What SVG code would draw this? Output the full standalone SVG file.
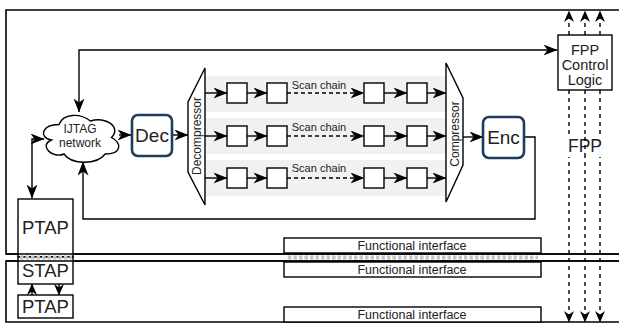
<svg xmlns="http://www.w3.org/2000/svg" width="619" height="324" viewBox="0 0 619 324">
<style>
text{font-family:"Liberation Sans",Arial,sans-serif;}
.ln{fill:none;stroke:#000;stroke-width:1.4;}
.fr{fill:none;stroke:#000;stroke-width:1.6;}
.bx{fill:#fff;stroke:#000;stroke-width:1.4;}
.rb{fill:#fff;stroke:#1f3b5e;stroke-width:2.6;}
.band{fill:#f1f1f1;}
.dash{fill:none;stroke:#000;stroke-width:1.4;stroke-dasharray:4 4;}
.bump{fill:none;stroke:#c4c4c4;stroke-width:4;stroke-dasharray:3.5 2;}
.t{fill:#222;text-anchor:middle;}
</style>
<defs>
<marker id="a" markerUnits="userSpaceOnUse" markerWidth="16" markerHeight="13" refX="13.5" refY="5.5" orient="auto-start-reverse"><path d="M0,0 L14,5.5 L0,11 L4,5.5 Z" fill="#000"/></marker>
<marker id="s" markerUnits="userSpaceOnUse" markerWidth="13" markerHeight="12" refX="11" refY="5" orient="auto-start-reverse"><path d="M0,0 L11.5,5 L0,10 L3.5,5 Z" fill="#000"/></marker>
</defs>

<g id="dies">
<path class="fr" d="M619,10 H6 V254 H619"/>
<path class="fr" d="M619,261 H6 V322 H619"/>
</g>

<g id="scan-bands">
<rect class="band" x="205" y="76" width="241" height="36"/>
<rect class="band" x="205" y="118" width="241" height="36"/>
<rect class="band" x="205" y="160" width="241" height="36"/>
</g>

<g id="connectors">
<path class="ln" d="M557,50 H79 V112" marker-start="url(#a)" marker-end="url(#a)"/>
<path class="ln" d="M32,198 V139 H44" marker-start="url(#a)" marker-end="url(#a)"/>
<path class="ln" d="M524,137 H535 V219 H83 V162" marker-end="url(#a)"/>
<path class="ln" d="M119,135 H131" marker-end="url(#a)"/>
<path class="ln" d="M172,135 H188" marker-end="url(#a)"/>
<path class="ln" d="M463,137 H483" marker-end="url(#a)"/>
<path class="ln" d="M32,295 V284" marker-end="url(#s)"/>
<path class="ln" d="M59,284 V295" marker-end="url(#s)"/>
<g id="chain1">
<path class="ln" d="M205,93 H227" marker-end="url(#a)"/>
<path class="ln" d="M247,93 H267" marker-end="url(#a)"/>
<path class="ln" d="M287,93 H364" stroke-dasharray="4 3" marker-end="url(#a)"/>
<path class="ln" d="M384,93 H407" marker-end="url(#a)"/>
<path class="ln" d="M427,93 H446" marker-end="url(#a)"/>
</g>
<g id="chain2">
<path class="ln" d="M205,136 H227" marker-end="url(#a)"/>
<path class="ln" d="M247,136 H267" marker-end="url(#a)"/>
<path class="ln" d="M287,136 H364" stroke-dasharray="4 3" marker-end="url(#a)"/>
<path class="ln" d="M384,136 H407" marker-end="url(#a)"/>
<path class="ln" d="M427,136 H446" marker-end="url(#a)"/>
</g>
<g id="chain3">
<path class="ln" d="M205,178 H227" marker-end="url(#a)"/>
<path class="ln" d="M247,178 H267" marker-end="url(#a)"/>
<path class="ln" d="M287,178 H364" stroke-dasharray="4 3" marker-end="url(#a)"/>
<path class="ln" d="M384,178 H407" marker-end="url(#a)"/>
<path class="ln" d="M427,178 H446" marker-end="url(#a)"/>
</g>
<g id="fpp-lines">
<path class="dash" d="M569,35 V11" marker-end="url(#s)"/>
<path class="dash" d="M585,35 V11" marker-end="url(#s)"/>
<path class="dash" d="M600,35 V11" marker-end="url(#s)"/>
<path class="dash" d="M569,90 V322" marker-end="url(#s)"/>
<path class="dash" d="M585,90 V322" marker-end="url(#s)"/>
<path class="dash" d="M600,90 V322" marker-end="url(#s)"/>
</g>
</g>

<g id="scan-labels">
<text class="t" x="319" y="89" font-size="11">Scan chain</text>
<text class="t" x="319" y="131" font-size="11">Scan chain</text>
<text class="t" x="319" y="172" font-size="11">Scan chain</text>
</g>

<g id="cells">
<rect class="bx" x="227" y="83" width="20" height="20"/>
<rect class="bx" x="267" y="83" width="20" height="20"/>
<rect class="bx" x="364" y="83" width="20" height="20"/>
<rect class="bx" x="407" y="83" width="20" height="20"/>
<rect class="bx" x="227" y="126" width="20" height="20"/>
<rect class="bx" x="267" y="126" width="20" height="20"/>
<rect class="bx" x="364" y="126" width="20" height="20"/>
<rect class="bx" x="407" y="126" width="20" height="20"/>
<rect class="bx" x="227" y="168" width="20" height="20"/>
<rect class="bx" x="267" y="168" width="20" height="20"/>
<rect class="bx" x="364" y="168" width="20" height="20"/>
<rect class="bx" x="407" y="168" width="20" height="20"/>
</g>

<g id="ijtag">
<path class="bx" d="M59,124.5 C42.2,124.5 38,137.5 51.4,140 C38,146 53.1,159 64,154 C71.6,165 96.8,165 105.2,154 C122,154 122,143 111.5,137.5 C122,127 105.2,116 90.5,121 C80,113 63.2,113 59,124.5 Z"/>
<text class="t" x="80" y="133" font-size="12" fill="#333">IJTAG</text>
<text class="t" x="80" y="147" font-size="12" fill="#333">network</text>
</g>

<g id="dec">
<rect class="rb" x="132" y="115" width="40" height="41" rx="6"/>
<text class="t" x="152" y="142" font-size="19" fill="#000">Dec</text>
</g>

<g id="decompressor">
<polygon class="bx" points="205,68 205,205 188,172 188,102"/>
<text class="t" transform="translate(200.5,136) rotate(-90)" font-size="12">Decompressor</text>
</g>

<g id="compressor">
<polygon class="bx" points="446,63 463,98 463,165 446,202"/>
<text class="t" transform="translate(458.5,134) rotate(-90)" font-size="12">Compressor</text>
</g>

<g id="enc">
<rect class="rb" x="483" y="117" width="41" height="41" rx="6"/>
<text class="t" x="503.5" y="144" font-size="19" fill="#000">Enc</text>
</g>

<g id="fpp-control">
<rect class="bx" x="558" y="35" width="54" height="55"/>
<text class="t" x="585" y="55" font-size="14.5">FPP</text>
<text class="t" x="585" y="70" font-size="14.5">Control</text>
<text class="t" x="585" y="85" font-size="14.5">Logic</text>
</g>

<g id="fpp-label">
<rect x="565" y="137" width="40" height="20" fill="#fff"/>
<text class="t" x="585" y="152" font-size="17.5">FPP</text>
<path class="dash" d="M585,137 V157"/>
</g>

<g id="ptap-top">
<rect class="bx" x="18" y="199" width="55" height="58"/>
<text class="t" x="45.5" y="233.5" font-size="18.5">PTAP</text>
</g>

<g id="stap">
<rect class="bx" x="18" y="257" width="55" height="27"/>
<text class="t" x="45.5" y="276.5" font-size="18.5">STAP</text>
</g>

<g id="ptap-bottom">
<rect class="bx" x="18" y="295" width="55" height="23"/>
<text class="t" x="45.5" y="312.5" font-size="18.5">PTAP</text>
</g>

<g id="func-top">
<rect class="bx" x="284" y="238" width="257" height="15"/>
<text class="t" x="412" y="250" font-size="12.5" fill="#333">Functional interface</text>
</g>
<g id="func-mid">
<rect class="bx" x="284" y="262" width="257" height="15"/>
<text class="t" x="412" y="274" font-size="12.5" fill="#333">Functional interface</text>
</g>
<g id="func-bottom">
<rect class="bx" x="284" y="307" width="257" height="15"/>
<text class="t" x="412" y="319" font-size="12.5" fill="#333">Functional interface</text>
</g>

<g id="bumps">
<path class="ln" d="M6,254 H619 M6,261 H619"/>
<path class="bump" d="M20,257.5 H72 M288,257.5 H538"/>
</g>
</svg>
